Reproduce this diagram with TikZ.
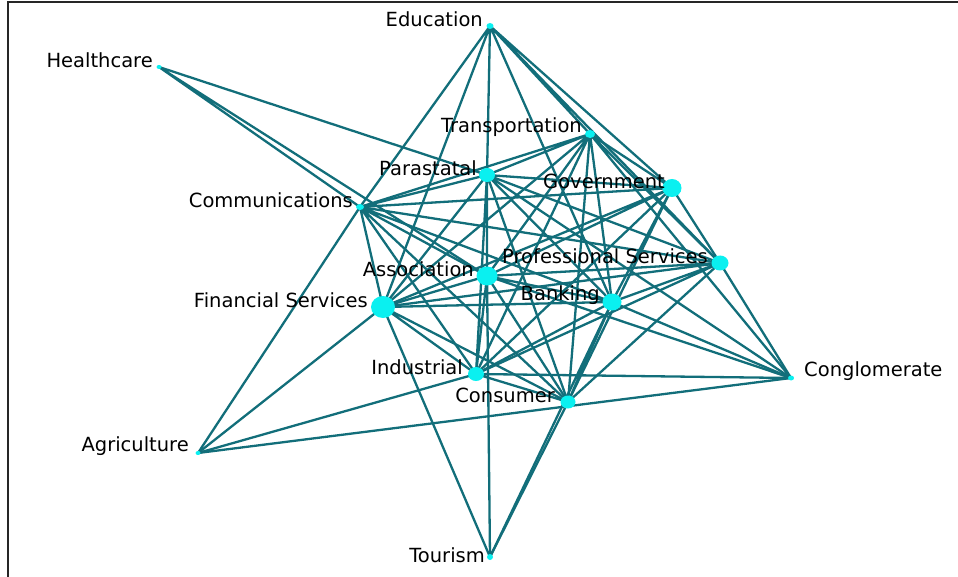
\documentclass[tikz,border=0pt]{standalone}
\usepackage{fontspec}
\setsansfont{DejaVu Sans}
\definecolor{tiecol}{RGB}{18,110,122}
\definecolor{actorcol}{RGB}{10,240,240}
\tikzset{
  tie/.style={draw=tiecol, line width=2.3pt},
  actor/.style={fill=actorcol},
  lab/.style={anchor=east, inner sep=0pt, yshift=7pt, font=\sffamily\fontsize{19.5}{21}\selectfont},
}
\begin{document}
\begin{tikzpicture}[x=1pt,y=-1pt]
\useasboundingbox (0,0) rectangle (958,577);
\draw[line width=2pt, black!85] (8,577) -- (8,2) -- (958,2);
% actor positions
\coordinate (Edu) at (490,26);
\coordinate (Hea) at (159,67);
\coordinate (Tra) at (590,134);
\coordinate (Par) at (487,175);
\coordinate (Gov) at (672,188);
\coordinate (Com) at (360,207);
\coordinate (Pro) at (720,263);
\coordinate (Ass) at (487,276);
\coordinate (Fin) at (383,307);
\coordinate (Ban) at (612,302);
\coordinate (Ind) at (476,374);
\coordinate (Con) at (568,402);
\coordinate (Clg) at (791,378);
\coordinate (Agr) at (198,453);
\coordinate (Tou) at (490,557);
% ties
\draw[tie] (Edu) -- (Com) (Edu) -- (Fin) (Edu) -- (Par) (Edu) -- (Ban) (Edu) -- (Tra) (Edu) -- (Gov) (Edu) -- (Pro);
\draw[tie] (Hea) -- (Com) (Hea) -- (Ass) (Hea) -- (Par);
\draw[tie] (Tra) -- (Par) (Tra) -- (Com) (Tra) -- (Fin) (Tra) -- (Ass) (Tra) -- (Ind) (Tra) -- (Con) (Tra) -- (Ban) (Tra) -- (Gov) (Tra) -- (Pro) (Tra) -- (Clg);
\draw[tie] (Par) -- (Com) (Par) -- (Fin) (Par) -- (Ass) (Par) -- (Ind) (Par) -- (Con) (Par) -- (Ban) (Par) -- (Pro) (Par) -- (Gov) (Par) -- (Clg);
\draw[tie] (Gov) -- (Com) (Gov) -- (Fin) (Gov) -- (Ass) (Gov) -- (Ind) (Gov) -- (Ban) (Gov) -- (Con) (Gov) -- (Pro);
\draw[tie] (Com) -- (Pro) (Com) -- (Ass) (Com) -- (Fin) (Com) -- (Ban) (Com) -- (Ind) (Com) -- (Con) (Com) -- (Agr);
\draw[tie] (Pro) -- (Ass) (Pro) -- (Fin) (Pro) -- (Ban) (Pro) -- (Ind) (Pro) -- (Con) (Pro) -- (Clg);
\draw[tie] (Ass) -- (Tou) (Ass) -- (Fin) (Ass) -- (Ban) (Ass) -- (Ind) (Ass) -- (Con) (Ass) -- (Clg);
\draw[tie] (Fin) -- (Ban) (Fin) -- (Ind) (Fin) -- (Con) (Fin) -- (Agr) (Fin) -- (Tou);
\draw[tie] (Ban) -- (Ind) (Ban) -- (Con) (Ban) -- (Clg) (Ban) -- (Tou);
\draw[tie] (Ind) -- (Con) (Ind) -- (Clg) (Ind) -- (Agr);
\draw[tie] (Con) -- (Tou) (Agr) -- (Clg);
% actors
\fill[actor] (Edu) circle[x radius=3.5, y radius=3] node[lab,xshift=-7pt] {Education};
\fill[actor] (Hea) circle[x radius=2.5, y radius=2] node[lab,xshift=-6pt] {Healthcare};
\fill[actor] (Tra) circle[x radius=5, y radius=4] node[lab,xshift=-8pt] {Transportation};
\fill[actor] (Par) circle[x radius=8, y radius=7] node[lab,xshift=-10pt] {Parastatal};
\fill[actor] (Gov) circle[x radius=9.5, y radius=9] node[lab,xshift=-7pt] {Government};
\fill[actor] (Com) circle[x radius=4, y radius=3] node[lab,xshift=-7pt] {Communications};
\fill[actor] (Pro) circle[x radius=8.5, y radius=7.5] node[lab,xshift=-12pt] {Professional Services};
\fill[actor] (Ass) circle[x radius=10.5, y radius=9.5] node[lab,xshift=-13pt] {Association};
\fill[actor] (Fin) circle[x radius=12, y radius=11] node[lab,xshift=-15pt] {Financial Services};
\fill[actor] (Ban) circle[x radius=9.5, y radius=8.5] node[lab,xshift=-12pt] {Banking};
\fill[actor] (Ind) circle[x radius=8, y radius=7] node[lab,xshift=-13pt] {Industrial};
\fill[actor] (Con) circle[x radius=7.5, y radius=6.5] node[lab,xshift=-13pt] {Consumer};
\fill[actor] (Clg) circle[x radius=3, y radius=2.5] node[lab,anchor=west,xshift=13pt] {Conglomerate};
\fill[actor] (Agr) circle[x radius=2.5, y radius=2] node[lab,xshift=-9pt] {Agriculture};
\fill[actor] (Tou) circle[x radius=3, y radius=3] node[lab,xshift=-5pt,yshift=-5pt] {Tourism};
\end{tikzpicture}
\end{document}
